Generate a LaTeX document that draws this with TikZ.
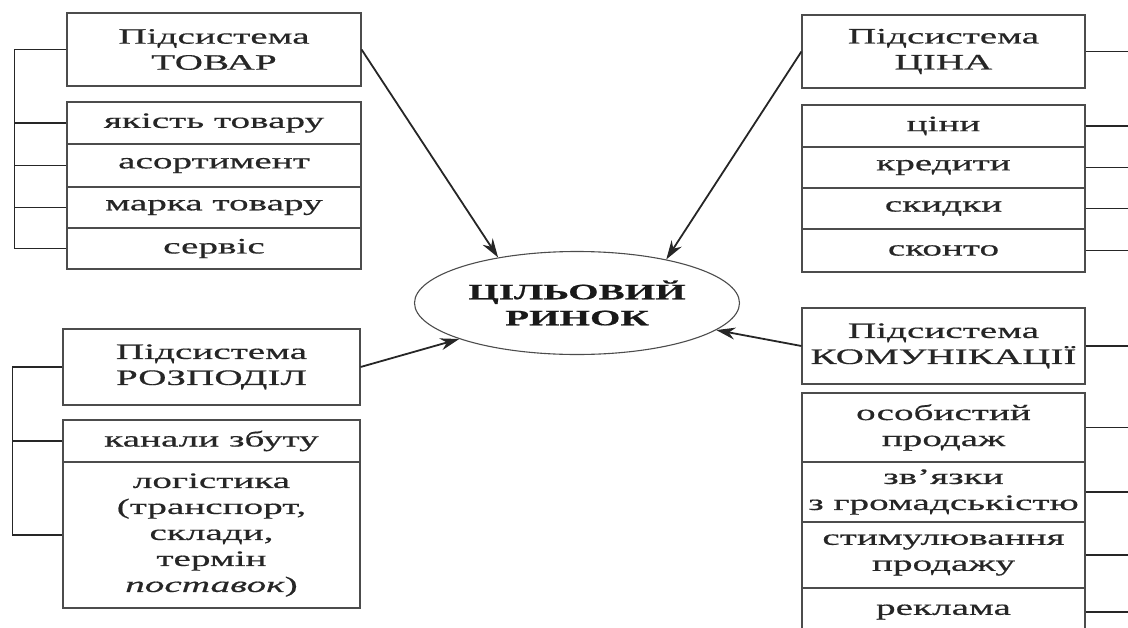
\documentclass[tikz,border=0pt]{standalone}
\usepackage{fontspec}
\setmainfont{Liberation Serif}[FakeStretch=1.78,FakeBold=0.6]
\usetikzlibrary{arrows.meta,shapes.geometric}

\begin{document}
\begin{tikzpicture}[x=1pt,y=-1pt,
    box/.style={draw=black!70, line width=1.1pt, inner sep=0pt, align=center,
      text=black!85, font=\fontsize{22}{26}\selectfont},
    link/.style={draw=black!85, line width=1.8pt},
    arr/.style={draw=black!85, line width=1.8pt, -{Stealth[length=19pt,width=12pt]}}]
\useasboundingbox (0,0) rectangle (1128,627);

\node[box, minimum width=294pt, minimum height=73pt] (tovar) at (214,49.5) {Підсистема\\ТОВАР};
\node[box, minimum width=294pt, minimum height=42pt] (tovar1) at (214,123) {якість товару};
\node[box, minimum width=294pt, minimum height=43pt] (tovar2) at (214,165.5) {асортимент};
\node[box, minimum width=294pt, minimum height=41pt] (tovar3) at (214,207.5) {марка товару};
\node[box, minimum width=294pt, minimum height=41pt] (tovar4) at (214,248.5) {сервіс};
\draw[link] (tovar.west) -- ++(-52,0) |- (tovar4.west);
\draw[link] (tovar1.west) -- ++(-52,0);
\draw[link] (tovar2.west) -- ++(-52,0);
\draw[link] (tovar3.west) -- ++(-52,0);

\node[box, minimum width=283pt, minimum height=73pt] (cina) at (943.5,51.5) {Підсистема\\ЦІНА};
\node[box, minimum width=283pt, minimum height=42pt] (cina1) at (943.5,126) {ціни};
\node[box, minimum width=283pt, minimum height=41pt] (cina2) at (943.5,167.5) {кредити};
\node[box, minimum width=283pt, minimum height=41pt] (cina3) at (943.5,208.5) {скидки};
\node[box, minimum width=283pt, minimum height=43pt] (cina4) at (943.5,250.5) {сконто};
\draw[link] (cina.east) -- ++(50,0);
\draw[link] (cina1.east) -- ++(50,0);
\draw[link] (cina2.east) -- ++(50,0);
\draw[link] (cina3.east) -- ++(50,0);
\draw[link] (cina4.east) -- ++(50,0);

\node[box, minimum width=297pt, minimum height=76pt] (rozpodil) at (211.5,367) {Підсистема\\РОЗПОДІЛ};
\node[box, minimum width=297pt, minimum height=42pt] (rozpodil1) at (211.5,441) {канали збуту};
\node[box, minimum width=297pt, minimum height=146pt] (rozpodil2) at (211.5,535)
  {логістика\\(транспорт,\\склади,\\термін\\\textit{поставок})};
\draw[link] (rozpodil.west) -- ++(-50,0) |- (rozpodil2.west);
\draw[link] (rozpodil1.west) -- ++(-50,0);

\node[box, minimum width=283pt, minimum height=76pt] (komun) at (943.5,346) {Підсистема\\КОМУНІКАЦІЇ};
\node[box, minimum width=283pt, minimum height=69pt] (komun1) at (943.5,427.5) {особистий\\продаж};
\node[box, minimum width=283pt, minimum height=60pt] (komun2) at (943.5,492) {зв’язки\\з громадськістю};
\node[box, minimum width=283pt, minimum height=66pt] (komun3) at (943.5,555) {стимулювання\\продажу};
\node[box, minimum width=283pt, minimum height=48pt] (komun4) at (943.5,612) {реклама};
\draw[link] (komun.east) -- ++(50,0);
\draw[link] (komun1.east) -- ++(50,0);
\draw[link] (komun2.east) -- ++(50,0);
\draw[link] (komun3.east) -- ++(50,0);
\draw[link] (komun4.east) -- ++(50,0);

\node[ellipse, draw=black!70, line width=1.1pt, minimum width=325pt, minimum height=103pt,
  inner sep=0pt, align=center, text=black!90, font=\fontsize{22}{26}\selectfont\bfseries]
  (rynok) at (577,303) {ЦІЛЬОВИЙ\\РИНОК};

\draw[arr] (tovar.east) -- (rynok.150);
\draw[arr] (cina.west) -- (rynok.26);
\draw[arr] (rozpodil.east) -- (rynok.197);
\draw[arr] (komun.west) -- (rynok.-11);
\end{tikzpicture}
\end{document}
